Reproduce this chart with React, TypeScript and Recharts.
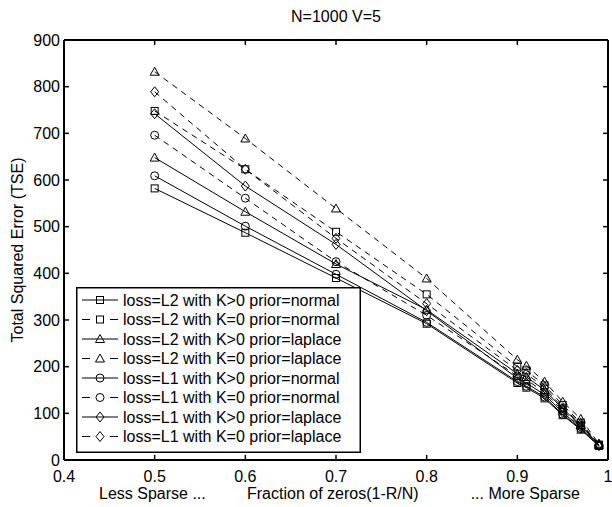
import { Label, Legend, Line, LineChart, XAxis, YAxis } from "recharts";

const FONT = '"Liberation Sans", Arial, Helvetica, sans-serif';

// fraction of zeros (1 - R/N)
const xValues = [0.5, 0.6, 0.7, 0.8, 0.9, 0.91, 0.93, 0.95, 0.97, 0.99];
const xTicks = [0.4, 0.5, 0.6, 0.7, 0.8, 0.9, 1.0];
const yTicks = [0, 100, 200, 300, 400, 500, 600, 700, 800, 900];

// total squared error per setting
const l2PosNormal = [582, 487, 390, 292, 165, 155, 132, 96, 65, 30];
const l2ZeroNormal = [748, 623, 489, 355, 200, 192, 160, 118, 80, 33];
const l2PosLaplace = [648, 532, 420, 322, 185, 178, 150, 110, 75, 32];
const l2ZeroLaplace = [832, 689, 539, 389, 215, 202, 168, 125, 88, 35];
const l1PosNormal = [609, 501, 398, 295, 168, 158, 135, 98, 67, 30];
const l1ZeroNormal = [696, 561, 425, 310, 180, 172, 145, 106, 72, 32];
const l1PosLaplace = [742, 587, 462, 320, 175, 165, 140, 102, 70, 31];
const l1ZeroLaplace = [789, 623, 475, 335, 192, 185, 155, 112, 78, 33];

type Shape = "square" | "triangle" | "circle" | "diamond";

const seriesList: { key: string; name: string; values: number[]; shape: Shape; dashed: boolean }[] = [
  { key: "l2PosNormal", name: "loss=L2 with K>0 prior=normal", values: l2PosNormal, shape: "square", dashed: false },
  { key: "l2ZeroNormal", name: "loss=L2 with K=0 prior=normal", values: l2ZeroNormal, shape: "square", dashed: true },
  { key: "l2PosLaplace", name: "loss=L2 with K>0 prior=laplace", values: l2PosLaplace, shape: "triangle", dashed: false },
  { key: "l2ZeroLaplace", name: "loss=L2 with K=0 prior=laplace", values: l2ZeroLaplace, shape: "triangle", dashed: true },
  { key: "l1PosNormal", name: "loss=L1 with K>0 prior=normal", values: l1PosNormal, shape: "circle", dashed: false },
  { key: "l1ZeroNormal", name: "loss=L1 with K=0 prior=normal", values: l1ZeroNormal, shape: "circle", dashed: true },
  { key: "l1PosLaplace", name: "loss=L1 with K>0 prior=laplace", values: l1PosLaplace, shape: "diamond", dashed: false },
  { key: "l1ZeroLaplace", name: "loss=L1 with K=0 prior=laplace", values: l1ZeroLaplace, shape: "diamond", dashed: true },
];

const rows = xValues.map((x, i) => {
  const row: Record<string, number> = { x };
  seriesList.forEach((s) => {
    row[s.key] = s.values[i];
  });
  return row;
});

function Marker({ cx, cy, shape }: { cx: number; cy: number; shape: Shape }) {
  const p = { fill: "none", stroke: "#000", strokeWidth: 1 };
  if (shape === "square") return <rect x={cx - 3.5} y={cy - 3.5} width={7} height={7} {...p} />;
  if (shape === "triangle")
    return <polygon points={`${cx},${cy - 4.5} ${cx + 4.5},${cy + 3.5} ${cx - 4.5},${cy + 3.5}`} {...p} />;
  if (shape === "circle") return <circle cx={cx} cy={cy} r={4} {...p} />;
  return <polygon points={`${cx},${cy - 5} ${cx + 4},${cy} ${cx},${cy + 5} ${cx - 4},${cy}`} {...p} />;
}

function LegendBox() {
  return (
    <svg width={285} height={166} style={{ display: "block", fontFamily: FONT }}>
      <rect x={0.75} y={0.75} width={283.5} height={164.5} fill="#fff" stroke="#000" strokeWidth={1.5} />
      {seriesList.map((s, i) => {
        const y = 13 + i * 19.5;
        return (
          <g key={s.key}>
            <line x1={6} x2={42} y1={y} y2={y} stroke="#000" strokeDasharray={s.dashed ? "8 20" : undefined} />
            <Marker cx={24} cy={y} shape={s.shape} />
            <text x={47} y={y} dy="0.35em" fontSize={16} fill="#000">
              {s.name}
            </text>
          </g>
        );
      })}
    </svg>
  );
}

const axisLine = { stroke: "#000", strokeWidth: 2 };
const tickLine = { stroke: "#000", strokeWidth: 1.5 };
const tickText = { fill: "#000", fontSize: 16, fontFamily: FONT };

export default function App() {
  return (
    <div style={{ position: "absolute", left: 0, top: 0, background: "#fff" }}>
      <LineChart width={612} height={507} data={rows} margin={{ top: 30, right: 0, left: 0, bottom: 0 }}>
        <XAxis
          dataKey="x"
          type="number"
          domain={[0.4, 1]}
          ticks={xTicks}
          tickFormatter={(v: number) => String(Number(v.toFixed(1)))}
          height={47}
          tickSize={-5}
          tickMargin={16}
          axisLine={axisLine}
          tickLine={tickLine}
          tick={tickText}
          allowDataOverflow
        >
          <Label
            content={() => (
              <g fontFamily={FONT} fontSize={16} fill="#000">
                <text x={99} y={499}>Less Sparse ...</text>
                <text x={247} y={499}>Fraction of zeros(1-R/N)</text>
                <text x={580} y={499} textAnchor="end">... More Sparse</text>
              </g>
            )}
          />
        </XAxis>
        <XAxis
          xAxisId="top"
          orientation="top"
          dataKey="x"
          type="number"
          domain={[0.4, 1]}
          ticks={xTicks}
          tickFormatter={() => ""}
          height={10}
          tickSize={-5}
          axisLine={axisLine}
          tickLine={tickLine}
          allowDataOverflow
        >
          <Label
            content={() => (
              <text x={336} y={22} textAnchor="middle" fontFamily={FONT} fontSize={16} fill="#000">
                N=1000 V=5
              </text>
            )}
          />
        </XAxis>
        <YAxis
          type="number"
          domain={[0, 900]}
          ticks={yTicks}
          width={64}
          tickSize={-5}
          tickMargin={9}
          axisLine={axisLine}
          tickLine={tickLine}
          tick={tickText}
          allowDataOverflow
        >
          <Label
            content={() => (
              <text
                x={17}
                y={250}
                dy="0.35em"
                textAnchor="middle"
                transform="rotate(-90, 17, 250)"
                fontFamily={FONT}
                fontSize={16}
                fill="#000"
              >
                Total Squared Error (TSE)
              </text>
            )}
          />
        </YAxis>
        <YAxis
          yAxisId="right"
          orientation="right"
          type="number"
          domain={[0, 900]}
          ticks={yTicks}
          width={4}
          tickSize={-5}
          tickFormatter={() => ""}
          axisLine={axisLine}
          tickLine={tickLine}
          allowDataOverflow
        />
        <Legend
          layout="vertical"
          verticalAlign="middle"
          align="center"
          wrapperStyle={{ left: 76, top: 287, width: 285, height: 166 }}
          content={() => <LegendBox />}
        />
        {seriesList.map((s) => (
          <Line
            key={s.key}
            dataKey={s.key}
            name={s.name}
            stroke="#000"
            strokeWidth={1}
            strokeDasharray={s.dashed ? "6 5" : undefined}
            isAnimationActive={false}
            activeDot={false}
            dot={(p: any) => <Marker key={`${s.key}-${p.index}`} cx={p.cx} cy={p.cy} shape={s.shape} />}
          />
        ))}
      </LineChart>
    </div>
  );
}
